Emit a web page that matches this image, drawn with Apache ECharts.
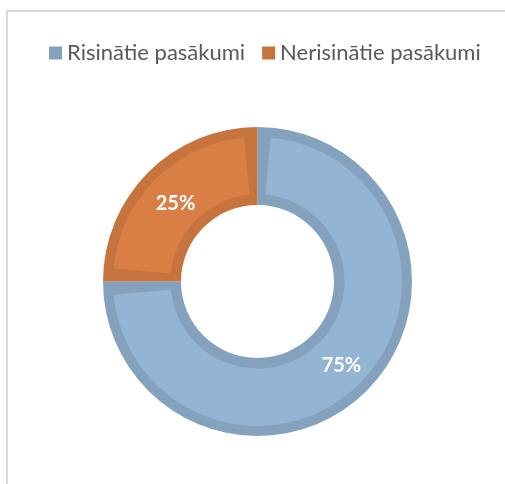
<!DOCTYPE html>
<html>
<head>
<meta charset="utf-8">
<script src="https://cdn.jsdelivr.net/npm/echarts@6/dist/echarts.min.js"></script>
<style>html,body{margin:0;padding:0;background:#fff}#c{width:505px;height:484px}</style>
</head>
<body>
<div id="c"></div>
<script>
const categories = ['Risinātie pasākumi', 'Nerisinātie pasākumi'];
const values = [75, 25];
const fillColors = ['#93b4d2', '#d97f45'];
const edgeColors = ['#84a2bd', '#c6733d'];

const chart = echarts.init(document.getElementById('c'), null, {renderer: 'canvas'});
const center = [257.5, 281.5];
chart.setOption({
  animation: false,
  graphic: [{
    type: 'rect', shape: {x: 7, y: 11, width: 560, height: 520},
    style: {fill: 'none', stroke: '#d9d9d9', lineWidth: 2}, silent: true
  }],
  legend: {
    top: 37, left: 44,
    itemWidth: 13, itemHeight: 13, itemGap: 17,
    icon: 'rect',
    textStyle: {fontFamily: 'Lato', fontSize: 22, color: '#595959'},
    data: categories
  },
  series: [{
    type: 'pie', silent: true, center: center, radius: [76.5, 154.5],
    startAngle: 90, clockwise: true,
    label: {show: false}, labelLine: {show: false},
    data: categories.map((n, i) => ({name: n, value: values[i], itemStyle: {color: edgeColors[i]}}))
  }, {
    type: 'pie', silent: true, center: center, radius: [87, 144.5],
    startAngle: 90, clockwise: true, padAngle: 10.5,
    label: {show: true, position: 'inside', formatter: '{d}%', color: '#fff',
      fontFamily: 'Lato', fontWeight: 'bold', fontSize: 20},
    labelLine: {show: false},
    data: categories.map((n, i) => ({name: n, value: values[i], itemStyle: {color: fillColors[i]},
      label: i === 1 ? {offset: [2, 6]} : {}}))
  }]
});
</script>
</body>
</html>
